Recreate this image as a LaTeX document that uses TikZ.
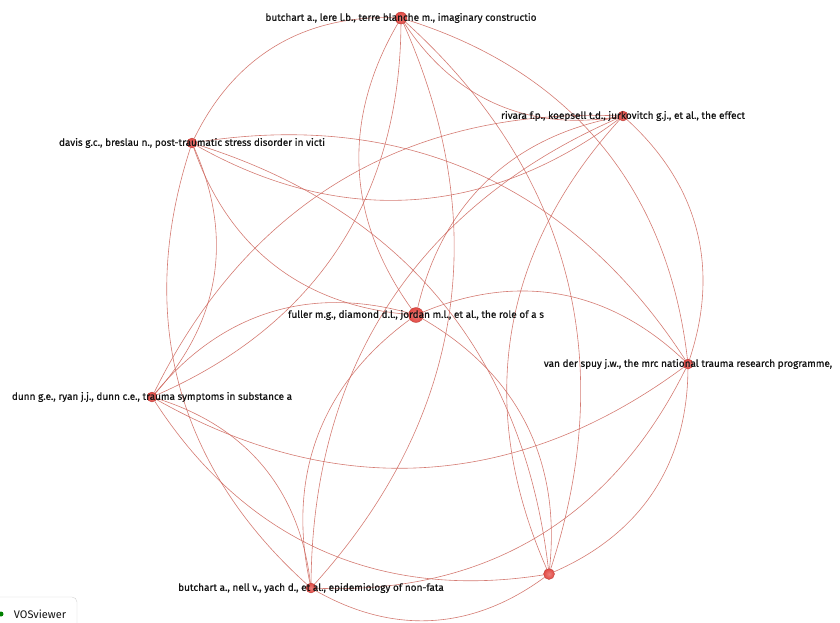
\documentclass[tikz,border=0pt]{standalone}
\usepackage{fontspec}
\setmainfont{Fira Sans}
\newfontfamily\itemfont{Fira Sans}[FakeBold=0.6]
\usetikzlibrary{positioning,backgrounds}
\definecolor{linkred}{RGB}{205,100,90}
\definecolor{dotred}{RGB}{226,72,66}
\definecolor{labelblack}{RGB}{20,20,20}
\tikzset{
  item/.style={circle, inner color=dotred!70!white, outer color=dotred, draw=dotred!80!black, line width=0.3pt, inner sep=0pt, minimum size=10pt},
  bigitem/.style={item, minimum size=15pt},
  itemlabel/.style={font=\itemfont\fontsize{10}{12}\selectfont, text=labelblack},
  link/.style={draw=linkred, line width=0.6pt, opacity=0.85},
}

\begin{document}
\begin{tikzpicture}[x=1pt,y=-1pt]
\useasboundingbox (0,0) rectangle (840,622);
\clip (0,0) rectangle (840,622);

% Items
\node[item, minimum size=12pt, label={[itemlabel]center:butchart a., lere l.b., terre blanche m., imaginary constructio}] (lere) at (401,18) {};
\node[item, label={[itemlabel]center:rivara f.p., koepsell t.d., jurkovitch g.j., et al., the effect}] (rivara) at (623,116) {};
\node[item, label={[itemlabel]center:davis g.c., breslau n., post-traumatic stress disorder in victi}] (davis) at (192,143) {};
\node[bigitem, label={[itemlabel]center:fuller m.g., diamond d.l., jordan m.l., et al., the role of a s}] (fuller) at (416,315) {};
\node[item, label={[itemlabel]center:van der spuy j.w., the mrc national trauma research programme,}] (spuy) at (688,364) {};
\node[item, label={[itemlabel]center:dunn g.e., ryan j.j., dunn c.e., trauma symptoms in substance a}] (dunn) at (152,397) {};
\node[item, label={[itemlabel]center:butchart a., nell v., yach d., et al., epidemiology of non-fata}] (nell) at (311,588) {};
\node[item, minimum size=11pt] (hidden) at (549,574) {};

% Links (curved, side given per link)
\begin{scope}[on background layer]
\foreach \a/\b/\s in {davis/lere/left, lere/spuy/left, lere/rivara/right, lere/fuller/right,
                      lere/dunn/left, lere/nell/left, lere/hidden/left,
                      rivara/spuy/left, rivara/davis/left, rivara/fuller/right, rivara/dunn/right,
                      rivara/nell/right, rivara/hidden/right,
                      davis/spuy/left, davis/fuller/right, davis/dunn/left, davis/nell/right, davis/hidden/left,
                      fuller/spuy/left, dunn/fuller/left, nell/fuller/left, fuller/hidden/left,
                      spuy/hidden/left, nell/spuy/right, dunn/spuy/right,
                      nell/hidden/right, dunn/nell/left, dunn/hidden/right}
  \draw[link] (\a) to[bend \s=33] (\b);
\end{scope}

% Logo
\draw[gray!35, rounded corners=5pt] (-10,597) -- (77,597) -- (77,630);
\node[font=\fontsize{11}{13}\selectfont, text=labelblack] (logo) at (40,614) {VOSviewer};
\fill[green!50!black] (1,614) circle (2.5pt);
\end{tikzpicture}
\end{document}
